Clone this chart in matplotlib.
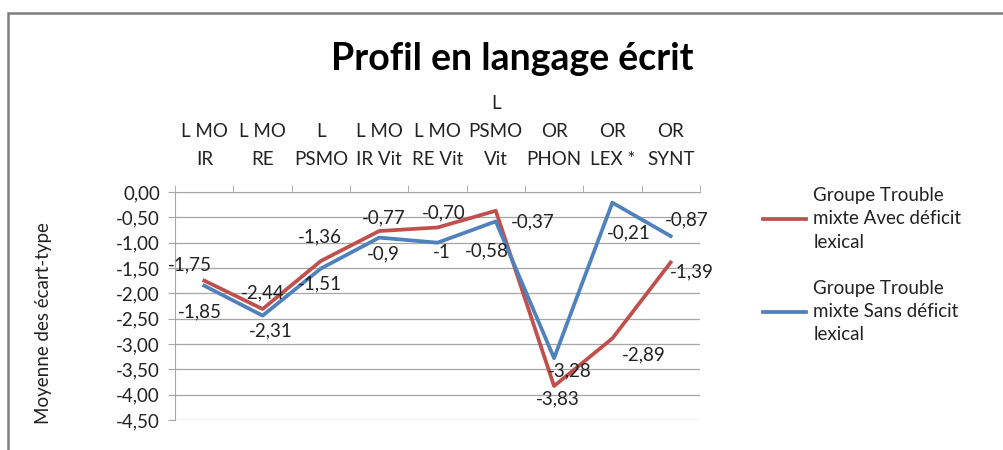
import numpy as np
import matplotlib.pyplot as plt
from matplotlib.patches import Rectangle

# categories (top axis) and the two group profiles
categories = ['L MO\nIR', 'L MO\nRE', 'L\nPSMO', 'L MO\nIR Vit', 'L MO\nRE Vit',
              'L\nPSMO\nVit', 'OR\nPHON', 'OR\nLEX *', 'OR\nSYNT']
avec = [-1.75, -2.31, -1.36, -0.77, -0.70, -0.37, -3.83, -2.89, -1.39]
sans = [-1.85, -2.44, -1.51, -0.90, -1.00, -0.58, -3.28, -0.21, -0.87]
avec_lbl = ['-1,75', '-2,31', '-1,36', '-0,77', '-0,70', '-0,37', '-3,83', '-2,89', '-1,39']
sans_lbl = ['-1,85', '-2,44', '-1,51', '-0,9', '-1', '-0,58', '-3,28', '-0,21', '-0,87']
yticks = np.arange(0, -4.51, -0.5)

# label offsets in pixels (dx, dy) relative to each point
avec_off = [(-14, 16), (8, -22), (-1, 24), (5, 13), (6, 15), (37, -11), (4, -13), (31, -16), (21, -9)]
sans_off = [(-4, -26), (0, 23), (-1, -15), (4, -16), (4, -10), (-9, -29), (16, -13), (16, -30), (16, 16)]

red = '#C0504D'
blue = '#4F81BD'
fs = 13.5
plt.rcParams['font.family'] = ['Lato', 'DejaVu Sans']

fig = plt.figure(figsize=(10.04, 4.5), dpi=100)
fig.patches.append(Rectangle((8/1004, -0.1), 1.2, 1.1 - 13/450, transform=fig.transFigure,
                             fill=False, edgecolor='#7f7f7f', linewidth=1.8))
ax = fig.add_axes([0.1745, 0.0667, 0.5225, 0.5066])

x = np.arange(len(categories))
ax.plot(x, avec, color=red, linewidth=2.7, solid_joinstyle='round')
ax.plot(x, sans, color=blue, linewidth=2.7, solid_joinstyle='round')

for i in range(len(x)):
    ax.annotate(avec_lbl[i], (x[i], avec[i]), xytext=avec_off[i], textcoords='offset pixels',
                ha='center', va='center', fontsize=fs, color='#222222')
    ax.annotate(sans_lbl[i], (x[i], sans[i]), xytext=sans_off[i], textcoords='offset pixels',
                ha='center', va='center', fontsize=fs, color='#222222')

ax.set_xlim(-0.5, len(x) - 0.5)
ax.set_ylim(-4.5, 0)
ax.set_yticks(yticks)
ax.set_yticklabels([('%.2f' % v).replace('.', ',') for v in yticks], fontsize=fs, color='#222222')
ax.yaxis.grid(True, color='#a6a6a6', linewidth=0.9)
ax.set_axisbelow(True)

ax.xaxis.tick_top()
ax.set_xticks(x)
ax.set_xticklabels(categories, fontsize=fs, color='#222222', linespacing=1.8)
ax.tick_params(axis='x', length=0, pad=17)
ax.set_xticks(np.arange(-0.5, len(x), 1), minor=True)
ax.tick_params(axis='x', which='minor', length=5, color='#a6a6a6', top=True)
ax.tick_params(axis='y', length=5, color='#a6a6a6', pad=6)

for s in ['right', 'bottom']:
    ax.spines[s].set_visible(False)
ax.spines['top'].set_color('#a6a6a6')
ax.spines['left'].set_color('#a6a6a6')

fig.text(0.043, 0.283, 'Moyenne des écart-type', rotation=90, ha='center', va='center',
         fontsize=fs, color='#222222')
fig.text(0.51, 0.87, 'Profil en langage écrit', ha='center', va='center',
         fontsize=27, fontweight='bold')

leg = ax.legend(['Groupe Trouble\nmixte Avec déficit\nlexical', 'Groupe Trouble\nmixte Sans déficit\nlexical'],
                loc='upper left', bbox_to_anchor=(0.743, 0.622), bbox_transform=fig.transFigure,
                frameon=False, fontsize=fs, handlelength=2.3, handletextpad=0.4,
                labelspacing=1.55, labelcolor='#222222')
for t in leg.get_texts():
    t.set_linespacing(1.45)

plt.savefig('out.png', dpi=100)
